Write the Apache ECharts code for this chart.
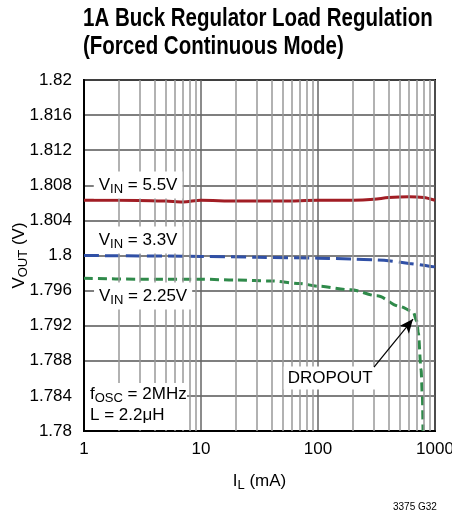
<!DOCTYPE html>
<html>
<head>
<meta charset="utf-8">
<script src="https://cdn.jsdelivr.net/npm/echarts@6/dist/echarts.min.js"></script>
<style>
  html, body { margin: 0; padding: 0; background: #fff; }
  #chart { width: 452px; height: 516px; }
</style>
</head>
<body>
<div id="chart"></div>
<script>
// load current (mA) and output voltage (V)
const iLoad55 = [1, 2, 5, 7, 10, 20, 50, 100, 200, 300, 400, 600, 800, 1000]
const vout55 = [1.8063, 1.8063, 1.8062, 1.8061, 1.8063, 1.8062, 1.8062, 1.8063, 1.8063, 1.8064, 1.8066, 1.8067, 1.8066, 1.8063]

const iLoad33 = [1, 10, 30, 100, 200, 300, 400, 600, 800, 1000]
const vout33 = [1.8000, 1.7999, 1.7998, 1.7997, 1.7996, 1.7995, 1.7994, 1.7991, 1.7989, 1.7987]

const iLoad225 = [1, 3, 10, 20, 40, 70, 100, 190, 320, 500, 650, 700, 720, 760, 780, 790]
const vout225 = [1.7974, 1.7973, 1.7973, 1.7972, 1.7971, 1.7968, 1.7965, 1.7961, 1.7954, 1.7942, 1.7936, 1.7925, 1.7912, 1.7870, 1.7840, 1.7800]

const yTicks = [1.78, 1.784, 1.788, 1.792, 1.796, 1.8, 1.804, 1.808, 1.812, 1.816, 1.82]
const xTicks = [1, 10, 100, 1000]
const minorX = [2, 3, 4, 5, 6, 7, 8, 9, 20, 30, 40, 50, 60, 70, 80, 90, 200, 300, 400, 500, 600, 700, 800, 900]

const FONT = "'Liberation Sans', Arial, sans-serif"

const zip = (xs, ys) => xs.map((x, i) => [x, ys[i]])

const subRich = {
  v: { fontSize: 17, fontFamily: FONT, color: '#000' },
  s: { fontSize: 13, fontFamily: FONT, color: '#000', verticalAlign: 'bottom', padding: [8, 0, 0, 0] }
}

function vinLabel(x, y, txt) {
  return {
    coord: [x, y],
    symbol: 'rect',
    symbolSize: 1,
    itemStyle: { color: 'rgba(0,0,0,0)' },
    label: {
      show: true,
      position: 'inside',
      formatter: '{v|V}{s|IN}{v| = ' + txt + '}',
      backgroundColor: '#fff',
      padding: [3, 5, 3, 5],
      rich: subRich
    }
  }
}

const chart = echarts.init(document.getElementById('chart'))

chart.setOption({
  animation: false,
  grid: {
    left: 84,
    top: 80,
    width: 351,
    height: 351,
    outerBoundsMode: 'none',
    show: true,
    borderColor: '#000',
    borderWidth: 2,
    backgroundColor: '#fff'
  },
  xAxis: {
    type: 'log',
    logBase: 10,
    min: xTicks[0],
    max: xTicks[xTicks.length - 1],
    name: '{v|I}{s|L}{v| (mA)}',
    nameLocation: 'middle',
    nameGap: 40,
    nameMoveOverlap: false,
    nameTextStyle: { rich: subRich },
    axisLine: { lineStyle: { color: '#000', width: 2 } },
    axisTick: { show: false },
    axisLabel: {
      fontSize: 17,
      fontFamily: FONT,
      color: '#000',
      margin: 10,
      formatter: v => String(Math.round(v))
    },
    splitLine: { show: true, lineStyle: { color: '#666', width: 1.5 } }
  },
  yAxis: {
    type: 'value',
    min: yTicks[0],
    max: yTicks[yTicks.length - 1],
    interval: 0.004,
    name: '{v|V}{s|OUT}{v| (V)}',
    nameLocation: 'middle',
    nameGap: 54,
    nameMoveOverlap: false,
    nameTextStyle: { rich: subRich },
    axisLine: { show: true, lineStyle: { color: '#000', width: 2 } },
    axisTick: { show: false },
    axisLabel: {
      fontSize: 17,
      fontFamily: FONT,
      color: '#000',
      margin: 12,
      formatter: v => String(parseFloat(v.toFixed(3)))
    },
    splitLine: { show: true, lineStyle: { color: '#555', width: 1.5 } }
  },
  series: [
    {
      // minor decade grid lines
      type: 'line',
      data: [],
      z: 1,
      silent: true,
      markLine: {
        silent: true,
        symbol: 'none',
        label: { show: false },
        lineStyle: { color: '#999', type: 'solid', width: 1.5 },
        data: minorX.map(v => ({ xAxis: v }))
      }
    },
    {
      name: 'VIN = 5.5V',
      type: 'line',
      z: 3,
      data: zip(iLoad55, vout55),
      smooth: 0.3,
      showSymbol: false,
      lineStyle: { color: '#a11d24', width: 3 },
      markPoint: { z: 5, data: [vinLabel(2.9, 1.80803, '5.5V')] }
    },
    {
      name: 'VIN = 3.3V',
      type: 'line',
      z: 3,
      data: zip(iLoad33, vout33),
      smooth: 0.3,
      showSymbol: false,
      lineStyle: { color: '#3050a6', width: 3, type: [15, 6] },
      markPoint: { z: 5, data: [vinLabel(2.9, 1.80177, '3.3V')] }
    },
    {
      name: 'VIN = 2.25V',
      type: 'line',
      z: 3,
      data: zip(iLoad225, vout225),
      smooth: 0.3,
      smoothMonotone: 'x',
      showSymbol: false,
      lineStyle: { color: '#2f8a4a', width: 3, type: [9, 5] },
      markPoint: {
        z: 5,
        data: [
          vinLabel(3.2, 1.79538, '2.25V'),
          {
            coord: [127, 1.78604],
            symbol: 'rect',
            symbolSize: 1,
            itemStyle: { color: 'rgba(0,0,0,0)' },
            label: {
              show: true,
              position: 'inside',
              formatter: 'DROPOUT',
              fontSize: 17,
              fontFamily: FONT,
              color: '#000',
              backgroundColor: '#fff',
              padding: [3, 4, 3, 4]
            }
          }
        ]
      },
      markLine: {
        silent: true,
        z: 6,
        symbol: ['none', 'arrow'],
        symbolSize: [9, 14],
        label: { show: false },
        lineStyle: { color: '#000', type: 'solid', width: 1.2 },
        data: [[{ coord: [301, 1.78729] }, { coord: [649, 1.79276] }]]
      }
    }
  ],
  graphic: [
    {
      type: 'text',
      x: 83,
      y: 5,
      scaleX: 0.82,
      style: {
        text: '1A Buck Regulator Load Regulation\n(Forced Continuous Mode)',
        fontFamily: FONT,
        fontWeight: 'bold',
        fontSize: 25,
        lineHeight: 28,
        fill: '#000'
      }
    },
    {
      type: 'rect',
      x: 85,
      y: 383,
      shape: { width: 102, height: 47 },
      style: { fill: '#fff' },
      z: 10
    },
    {
      type: 'text',
      x: 90,
      y: 384,
      z: 11,
      style: {
        text: '{v|f}{s|OSC}{v| = 2MHz}\n{v|L = 2.2μH}',
        rich: {
          v: { fontSize: 17, fontFamily: FONT, fill: '#000', lineHeight: 21 },
          s: { fontSize: 13, fontFamily: FONT, fill: '#000', verticalAlign: 'bottom', padding: [8, 0, 0, 0], lineHeight: 21 }
        }
      }
    },
    {
      type: 'text',
      x: 393,
      y: 502,
      style: { text: '3375 G32', fontSize: 10, fontFamily: FONT, fill: '#000' }
    }
  ]
})
</script>
</body>
</html>
